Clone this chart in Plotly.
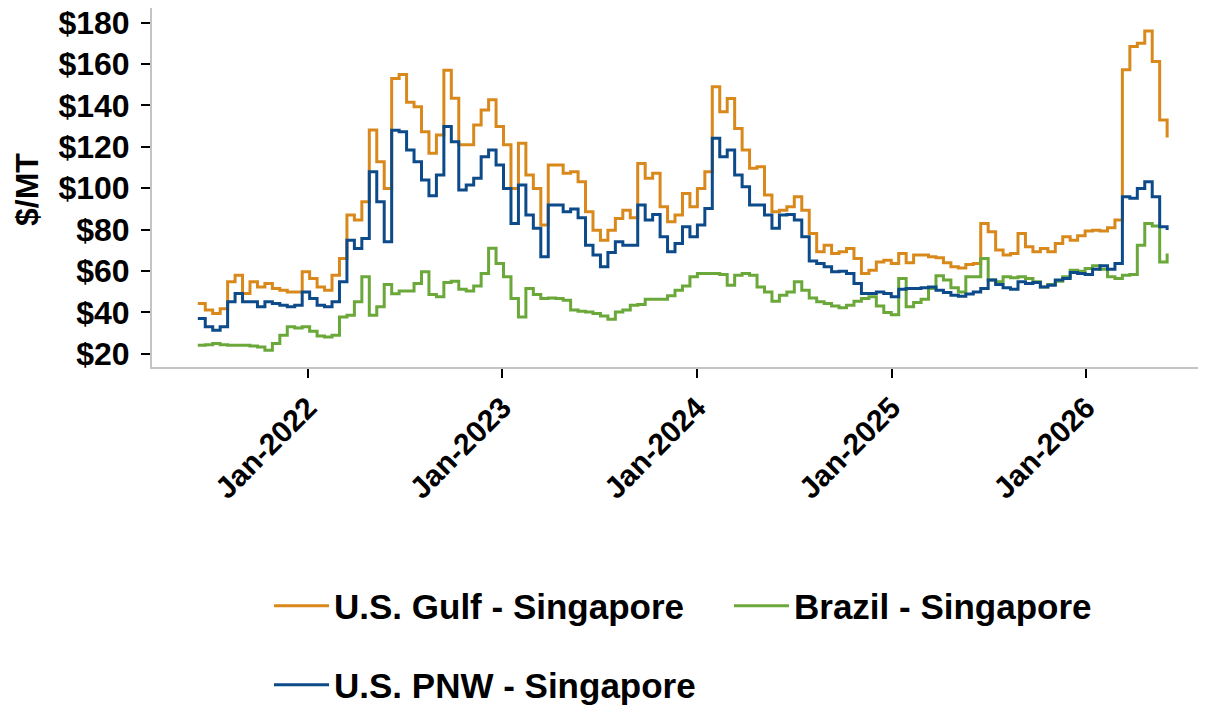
import pandas as pd
import plotly.graph_objects as go

# Biweekly observation dates (start 2021-06-08)
start_date = "2021-06-08"
n_points = 131

gulf_singapore = [
    44.3, 41.1, 39.5, 41.8, 54.8, 58.0, 49.1, 54.8, 52.3, 54.0,
    51.5, 50.7, 49.9, 49.9, 59.6, 56.4, 52.3, 50.7, 58.0, 66.0,
    87.0, 84.6, 93.5, 128.1, 112.8, 99.9, 153.0, 155.0, 141.5, 139.4,
    127.3, 116.9, 125.7, 157.0, 143.5, 121.0, 121.0, 130.6, 137.8, 142.7,
    129.8, 121.0, 99.9, 121.7, 106.4, 99.9, 82.2, 111.2, 111.2, 107.2,
    108.0, 103.1, 88.6, 79.7, 74.9, 79.7, 85.4, 89.4, 85.7, 112.0,
    104.8, 107.2, 91.0, 83.8, 87.0, 97.5, 91.0, 99.9, 108.0, 149.1,
    137.0, 143.4, 128.9, 118.5, 109.6, 110.4, 96.7, 88.6, 89.4, 91.0,
    95.9, 89.4, 78.1, 69.3, 72.5, 68.5, 69.3, 70.9, 66.0, 58.8,
    60.4, 64.4, 65.2, 63.6, 68.5, 64.0, 67.7, 67.7, 66.9, 66.4,
    64.0, 62.0, 61.5, 63.1, 63.6, 83.0, 79.0, 70.1, 67.7, 68.5,
    78.1, 71.7, 69.3, 70.9, 69.3, 73.3, 76.5, 74.9, 77.0, 79.3,
    79.7, 79.3, 80.9, 84.6, 157.2, 168.5, 170.1, 176.0, 161.2, 133.0,
    124.5,
]

pnw_singapore = [
    37.0, 33.0, 31.4, 33.0, 45.1, 49.1, 45.1, 45.1, 42.7, 45.1,
    44.3, 43.5, 42.7, 43.5, 49.9, 46.7, 43.5, 42.7, 45.1, 54.8,
    74.9, 70.9, 75.7, 108.0, 93.5, 74.1, 128.0, 127.3, 118.5, 112.8,
    104.0, 96.4, 106.4, 129.8, 122.5, 99.1, 101.5, 104.8, 115.2, 118.5,
    111.2, 99.9, 83.0, 101.5, 87.0, 80.6, 66.9, 91.9, 91.9, 88.6,
    89.9, 85.7, 72.5, 67.7, 62.0, 68.9, 74.1, 72.5, 72.5, 91.9,
    84.6, 87.3, 76.5, 69.3, 73.3, 81.4, 76.5, 82.2, 90.2, 124.1,
    115.2, 118.5, 106.4, 100.7, 91.9, 91.9, 87.0, 80.6, 87.0, 87.3,
    84.6, 76.5, 64.8, 63.6, 62.0, 59.6, 59.9, 58.8, 54.0, 49.1,
    49.1, 49.9, 49.1, 47.5, 51.2, 51.5, 51.5, 51.9, 52.3, 50.7,
    49.6, 48.3, 47.8, 48.9, 49.9, 51.5, 55.6, 53.5, 51.9, 51.2,
    54.8, 54.0, 54.4, 52.3, 53.1, 55.6, 56.4, 59.3, 58.8, 58.3,
    60.9, 62.5, 60.9, 63.6, 95.9, 95.1, 99.9, 103.1, 95.9, 81.4,
    79.8,
]

brazil_singapore = [
    24.1, 24.4, 24.9, 24.4, 24.1, 24.1, 24.1, 23.8, 23.3, 21.7,
    24.9, 28.9, 33.0, 32.5, 33.0, 30.9, 28.6, 28.1, 28.9, 37.8,
    38.6, 45.1, 57.2, 38.6, 42.7, 53.5, 49.0, 50.3, 50.3, 54.0,
    59.6, 48.6, 47.5, 54.4, 55.1, 51.2, 50.3, 52.8, 58.8, 71.0,
    63.6, 57.2, 46.7, 37.8, 51.5, 48.6, 46.7, 47.0, 46.7, 45.9,
    41.1, 40.6, 40.2, 39.5, 38.3, 36.7, 40.2, 41.1, 43.5, 43.8,
    46.4, 46.4, 46.4, 48.0, 50.7, 52.8, 57.2, 58.8, 58.8, 58.8,
    58.3, 53.1, 58.0, 58.8, 58.0, 52.3, 49.9, 45.4, 48.3, 49.9,
    54.8, 50.7, 47.0, 45.1, 44.3, 43.1, 42.2, 43.5, 45.4, 46.7,
    47.5, 43.1, 39.9, 38.9, 56.4, 42.7, 44.8, 46.4, 51.5, 57.7,
    55.6, 51.9, 49.9, 57.2, 57.2, 66.0, 55.6, 54.8, 57.2, 56.7,
    57.2, 56.4, 54.8, 52.3, 53.5, 55.1, 57.2, 60.4, 59.9, 61.2,
    62.5, 60.9, 57.2, 56.4, 58.0, 58.3, 72.5, 82.9, 81.8, 64.4,
    68.5,
]

series_names = ["U.S. Gulf - Singapore", "Brazil - Singapore", "U.S. PNW - Singapore"]
series_colors = ["#D9891C", "#6BA83A", "#0C4A8A"]
y_tick_values = [20, 40, 60, 80, 100, 120, 140, 160, 180]
y_tick_labels = ["$" + str(v) for v in y_tick_values]
y_title = "$/MT"

dates = pd.date_range(start=start_date, periods=n_points, freq="14D")
series_values = [gulf_singapore, brazil_singapore, pnw_singapore]
legend_ids = ["legend", "legend2", "legend3"]

FONT = "Liberation Sans, Arial, sans-serif"

fig = go.Figure()
for name, vals, col, lg in zip(series_names, series_values, series_colors, legend_ids):
    fig.add_trace(go.Scatter(
        x=dates, y=vals, name=name, mode="lines",
        line=dict(color=col, width=3, shape="hv"),
        legend=lg,
    ))

legend_common = dict(
    xref="container", yref="container", xanchor="left", yanchor="middle",
    font=dict(family=FONT, size=35, color="black", weight="bold"),
    bgcolor="rgba(0,0,0,0)", itemwidth=55,
)

fig.update_layout(
    width=1206, height=707,
    margin=dict(l=144, r=0, t=0, b=348, autoexpand=False),
    paper_bgcolor="white", plot_bgcolor="white",
    showlegend=True,
    legend=dict(x=261 / 1206, y=1 - 598 / 707, **legend_common),
    legend2=dict(x=721 / 1206, y=1 - 598 / 707, **legend_common),
    legend3=dict(x=261 / 1206, y=1 - 677 / 707, **legend_common),
    font=dict(family=FONT, color="black"),
    annotations=[dict(
        text=y_title, xref="paper", yref="paper",
        x=(19 - 144) / 1062, y=1 - 182 / 359,
        xanchor="center", yanchor="middle", textangle=-90, showarrow=False,
        font=dict(family=FONT, size=32, color="black", weight="bold"),
    )],
)

fig.update_yaxes(
    range=[13.6, 187.1],
    tickvals=y_tick_values, ticktext=y_tick_labels,
    tickfont=dict(family=FONT, size=32, color="black", weight="bold"),
    showline=True, linecolor="#c4c4c4", linewidth=2,
    ticks="outside", ticklen=9, tickwidth=2, tickcolor="black",
    ticklabelstandoff=5, ticklabeloverflow="allow",
    showgrid=False, zeroline=False,
)

fig.update_xaxes(
    range=["2021-03-14", "2026-08-29"],
    tick0="2022-01-01", dtick="M12", tickformat="%b-%Y",
    tickangle=-45,
    tickfont=dict(family=FONT, size=30, color="black", weight="bold"),
    showline=True, linecolor="#c4c4c4", linewidth=2,
    ticks="outside", ticklen=9, tickwidth=2, tickcolor="black",
    ticklabelstandoff=0, ticklabeloverflow="allow",
    showgrid=False, zeroline=False,
)

fig.write_html("out.html")
